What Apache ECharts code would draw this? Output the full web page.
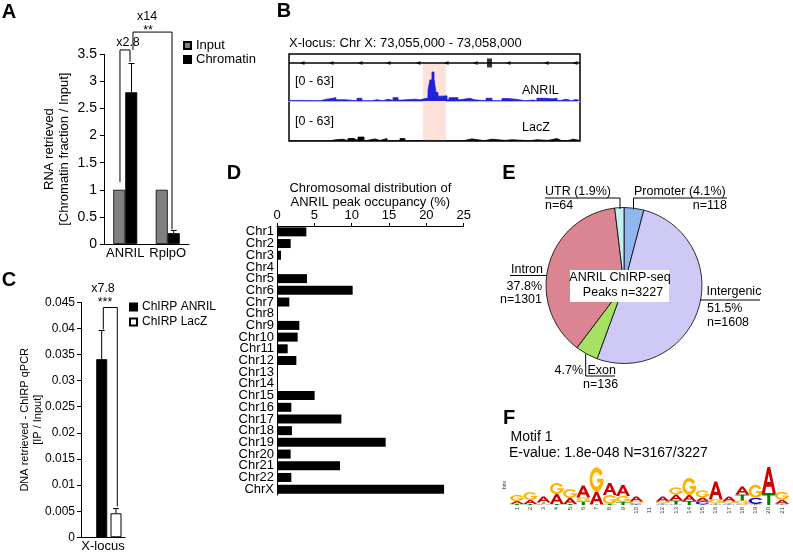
<!DOCTYPE html>
<html><head><meta charset="utf-8">
<script src="https://cdn.jsdelivr.net/npm/echarts@6/dist/echarts.min.js"></script>
<style>html,body{margin:0;padding:0;background:#fff}#c{width:793px;height:553px}</style>
</head><body><div id="c"></div>
<script>
// ---------------- DATA ----------------
// Panel A
const aCategories = ['ANRIL', 'RplpO'];
const aInput = [1, 1];
const aChromatin = [2.8, 0.2];
const aChromatinErrTop = [3.33, 0.25];
const aErrX = [0.647, 1.64];            // annotation axis units (category band = 1)
const aBracketX1 = [0.376, 0.682];
const aBracketY1 = [1.14, 3.58];
const aBracketX2 = [0.612, 1.6];
const aBracketY2 = [3.36, 0.27];
const aBracketTop = [3.58, 3.91];
const aLegend = ['Input', 'Chromatin'];

// Panel C
const cCategories = ['X-locus'];
const cAnril = [0.0341];
const cLacZ = [0.0046];
const cAnrilErrTop = [0.0396];
const cLacZErrTop = [0.0055];
const cErrX = [0.47, 0.795];
const cBracketX1 = [0.507];
const cBracketY1 = [0.0398];
const cBracketX2 = [0.825];
const cBracketY2 = [0.0059];
const cBracketTop = [0.0440];
const cLegend = ['ChIRP ANRIL', 'ChIRP LacZ'];

// Panel D
const dChromosomes = ['Chr1','Chr2','Chr3','Chr4','Chr5','Chr6','Chr7','Chr8','Chr9','Chr10','Chr11','Chr12',
  'Chr13','Chr14','Chr15','Chr16','Chr17','Chr18','Chr19','Chr20','Chr21','Chr22','ChrX'];
const dOccupancy = [3.93,1.83,0.54,0.09,4.02,10.13,1.65,0.09,2.99,2.77,1.43,2.59,
  0.13,0.05,5.04,1.92,8.62,2.0,14.55,1.83,8.44,1.92,22.37];
const dTicks = [0, 5, 10, 15, 20, 25];

// Panel B (positions in bp from 73,055,000; coverage on a 0-63 scale)
const bAnrilPos = [0,62,320,392,484,578,701,752,855,908,969,1021,1072,1124,1165,1299,1351,1433,1453,1474,1495,1515,1536,
  1578,1629,1650,1742,1763,1866,1908,2031,2093,2196,2258,2330,2433,2515,2556,2640,2712,2763,2804,2856,2910,2960,3000];
const bAnrilCov = [1,0.5,3,5.5,2,0.5,4.5,0.5,2,0.5,3,1,5.5,1.5,3,2,5,18,35,48,36,14,8,
  8.5,2,5.5,2,4.5,2,0.5,4.5,0.5,4,3,0.5,1.5,0.5,4.5,3.5,4.5,1,3,0.5,2.5,0.5,0.5];
const bLaczPos = [0,422,484,557,608,670,711,773,804,887,938,1010,1144,1195,1351,1433,1763,1814,1886,2010,2093,2227,
  2299,2484,2556,2670,2763,2804,2870,2930,3000];
const bLaczCov = [0.3,2,3,0.5,4,1,6.5,1,3.5,1,4,0.5,4,0.5,1,0.5,1,3.5,0.5,3,1,2,
  0.5,2,1,4,1,0.5,3,1,1];
const bGeneTicks = [134,433,732,1021,1330,1619,1918,2258,2650,2948];
const bExon = [2067];
const bHighlight = [1381, 1619];

// Panel E
const eNames = ['Promoter','Intergenic','Exon','Intron','UTR'];
const ePercent = [4.1, 51.5, 4.7, 37.8, 1.9];
const eCounts = [118, 1608, 136, 1301, 64];
const eTotal = 3227;

// Panel F (information content, bits)
const fPositions = ['1','2','3','4','5','6','7','8','9','10','11','12','13','14','15','16','17','18','19','20','21'];
const fA = [0.15,0.20,0.30,0.50,0.30,0.60,0.65,0.60,0.55,0.25,0,0.25,0.30,0.30,0.20,0.90,0.25,0.40,0.03,1.30,0.20];
const fC = [0,0,0.03,0,0,0,0,0,0,0.05,0,0.03,0.03,0,0.15,0.03,0.03,0.03,0.30,0,0.03];
const fG = [0.30,0.40,0.05,0.55,0.45,0.20,1.20,0.45,0.30,0.10,0,0.10,0.35,0.85,0.35,0.20,0.10,0.20,0.65,0,0.40];
const fT = [0.05,0.05,0.05,0.05,0.05,0.18,0.03,0.05,0.15,0.03,0,0.05,0.20,0.20,0.03,0.05,0.05,0.30,0.03,0.60,0.03];

// ---------------- STYLE / BUILD ----------------
const FONT = '"Liberation Sans", Arial, Helvetica, sans-serif';
const eColors = ['#8fb6ef', '#cfc9f6', '#a7e163', '#db8592', '#c8efef'];
const LETTER_COL = {A:'#cc0000', C:'#0000cc', G:'#ffb300', T:'#008000'};
const LETTER_PATH = {
  A: 'M0,100L40,0L60,0L100,100L78,100L69,76L31,76L22,100Z M38,58L62,58L50,26Z',
  T: 'M0,0L100,0L100,20L61,20L61,100L39,100L39,20L0,20Z',
  C: 'M94,25A48,50 0 1 0 94,75L76,65A28,30 0 1 1 76,35Z',
  G: 'M94,25A48,50 0 1 0 100,52L100,47L56,47L56,62L77,62A28,30 0 1 1 76,35Z'
};

const zip = (a, b) => a.map((v, i) => [v, b[i]]);

function errorBar(params, api) {
  const x = api.value(0), lo = api.value(1), hi = api.value(2);
  const p0 = api.coord([x, lo]), p1 = api.coord([x, hi]);
  return {type:'group', children:[
    {type:'line', shape:{x1:p0[0], y1:p0[1], x2:p1[0], y2:p1[1]}, style:{stroke:'#000', lineWidth:1}},
    {type:'line', shape:{x1:p1[0]-3, y1:p1[1], x2:p1[0]+3, y2:p1[1]}, style:{stroke:'#000', lineWidth:1}}
  ]};
}
function bracket(params, api) {
  const x1 = api.value(0), y1 = api.value(1), x2 = api.value(2), y2 = api.value(3), yt = api.value(4);
  const pts = [api.coord([x1, y1]), api.coord([x1, yt]), api.coord([x2, yt]), api.coord([x2, y2])];
  return {type:'polyline', shape:{points:pts}, style:{stroke:'#000', lineWidth:1, fill:null}};
}
function logoRender(params, api) {
  const i = api.value(0);
  const base = api.coord([i, 0]);
  const bw = api.size([1, 0])[0] * 1.05;
  const stack = [['A', api.value(1)], ['C', api.value(2)], ['G', api.value(3)], ['T', api.value(4)]]
    .sort((a, b) => a[1] - b[1]);
  let y = base[1];
  const children = [];
  stack.forEach(([l, v]) => {
    const h = api.size([0, v])[1];
    if (h >= 0.4) {
      children.push({type:'path', shape:{pathData:LETTER_PATH[l], x:base[0]-bw/2, y:y-h, width:bw, height:h, layout:'cover'},
        style:{fill:LETTER_COL[l]}});
    }
    y -= h;
  });
  return {type:'group', children};
}

const aErrData = aErrX.map((x, i) => [x, aChromatin[i], aChromatinErrTop[i]]);
const aBracketData = aBracketX1.map((x, i) => [x, aBracketY1[i], aBracketX2[i], aBracketY2[i], aBracketTop[i]]);
const cErrData = [[cErrX[0], cAnril[0], cAnrilErrTop[0]], [cErrX[1], cLacZ[0], cLacZErrTop[0]]];
const cBracketData = cBracketX1.map((x, i) => [x, cBracketY1[i], cBracketX2[i], cBracketY2[i], cBracketTop[i]]);
const fLogoData = fPositions.map((p, i) => [i, fA[i], fC[i], fG[i], fT[i]]);
const GENE_Y = 0.897;

function T(text, x, y, size, align, bold) {
  return {type:'text', x, y, z:100, silent:true,
    style:{text, fill:'#000', font:(bold ? 'bold ' : '') + size + 'px ' + FONT,
      textAlign:align || 'left', align:align || 'left', textVerticalAlign:'middle', verticalAlign:'middle'}};
}
function L(points, w) {
  return {type:'polyline', z:100, silent:true, shape:{points}, style:{stroke:'#000', lineWidth:w || 1, fill:null}};
}

const axisLineBlack = {show:true, lineStyle:{color:'#000', width:1}};
const lbl = (fs, margin) => ({color:'#000', fontSize:fs, margin, fontFamily:FONT, interval:0});

const option = {
  animation:false,
  backgroundColor:'#fff',
  textStyle:{fontFamily:FONT, color:'#000'},
  grid:[
    {left:104, top:54.3, width:85, height:189.7},
    {left:81, top:302.3, width:44, height:235},
    {left:277, top:226, width:186.7, height:269},
    {left:289, top:54, width:291, height:87, show:true, borderColor:'#000', borderWidth:1.5, backgroundColor:'transparent'},
    {left:289, top:63, width:291, height:38},
    {left:289, top:103, width:291, height:38},
    {left:510.4, top:465, width:278.25, height:40}
  ].map(g => Object.assign({outerBoundsMode:'none', containLabel:false}, g)),
  legend:[
    {data:aLegend, orient:'vertical', left:178, top:34, itemWidth:7, itemHeight:7, itemGap:1, icon:'rect',
      textStyle:{fontSize:13, color:'#000', fontFamily:FONT}, selectedMode:false},
    {data:cLegend, orient:'vertical', left:124, top:296, itemWidth:7, itemHeight:7, itemGap:3, icon:'rect',
      textStyle:{fontSize:12, color:'#000', fontFamily:FONT}, selectedMode:false}
  ],
  xAxis:[
    {gridIndex:0, type:'category', data:aCategories, axisLine:axisLineBlack, axisTick:{show:false}, axisLabel:lbl(13, 3)},
    {gridIndex:0, type:'value', min:0, max:2, show:false},
    {gridIndex:1, type:'category', data:cCategories, axisLine:axisLineBlack, axisTick:{show:false}, axisLabel:lbl(13, 3)},
    {gridIndex:1, type:'value', min:0, max:1, show:false},
    {gridIndex:2, type:'value', position:'top', min:dTicks[0], max:dTicks[dTicks.length-1], interval:5, axisLine:axisLineBlack,
      axisTick:{show:true, length:3, lineStyle:{color:'#000'}}, axisLabel:lbl(13, 4), splitLine:{show:false},
      name:'Chromosomal distribution of\nANRIL peak occupancy (%)', nameLocation:'middle', nameGap:17, nameMoveOverlap:false,
      nameTextStyle:{fontSize:13, lineHeight:14, color:'#000', fontFamily:FONT}},
    {gridIndex:3, type:'value', min:0, max:3000, show:false},
    {gridIndex:4, type:'value', min:0, max:3000, axisLine:{show:true, onZero:false, lineStyle:{color:'#b8b8b8', width:1}},
      axisTick:{show:false}, axisLabel:{show:false}, splitLine:{show:false}},
    {gridIndex:5, type:'value', min:0, max:3000, show:false},
    {gridIndex:6, type:'category', data:fPositions, axisLine:{show:false}, axisTick:{show:false},
      axisLabel:{rotate:90, fontSize:6, interval:0, margin:2, color:'#333', fontFamily:FONT}}
  ],
  yAxis:[
    {gridIndex:0, type:'value', min:0, max:3.5, interval:0.5, axisLine:axisLineBlack,
      axisTick:{show:true, length:4, lineStyle:{color:'#000'}}, axisLabel:lbl(14, 7), splitLine:{show:false},
      name:'RNA retrieved\n[Chromatin fraction / Input]', nameLocation:'middle', nameRotate:90, nameGap:32, nameMoveOverlap:false,
      nameTextStyle:{fontSize:13, lineHeight:15, color:'#000', fontFamily:FONT}},
    {gridIndex:1, type:'value', min:0, max:0.045, interval:0.005, axisLine:axisLineBlack,
      axisTick:{show:true, length:4, lineStyle:{color:'#000'}}, axisLabel:lbl(12, 6), splitLine:{show:false},
      name:'DNA retrieved - ChIRP qPCR\n[IP / Input]', nameLocation:'middle', nameRotate:90, nameGap:37, nameMoveOverlap:false,
      nameTextStyle:{fontSize:11, lineHeight:13, color:'#000', fontFamily:FONT}},
    {gridIndex:2, type:'category', data:dChromosomes, inverse:true, axisLine:axisLineBlack, axisTick:{show:false},
      axisLabel:lbl(13, 3)},
    {gridIndex:3, type:'value', min:0, max:1, show:false},
    {gridIndex:4, type:'value', min:0, max:63, show:false},
    {gridIndex:5, type:'value', min:0, max:63, show:false},
    {gridIndex:6, type:'value', min:0, max:2, axisLine:{show:false}, axisTick:{show:false}, axisLabel:{show:false},
      splitLine:{show:false}, name:'bits', nameLocation:'middle', nameRotate:90, nameGap:3, nameMoveOverlap:false,
      nameTextStyle:{fontSize:5, color:'#333'}}
  ],
  series:[
    // A
    {name:aLegend[0], type:'bar', xAxisIndex:0, yAxisIndex:0, data:aInput, barWidth:12, barGap:'0%',
      itemStyle:{color:'#808080', borderColor:'#000', borderWidth:0.8}},
    {name:aLegend[1], type:'bar', xAxisIndex:0, yAxisIndex:0, data:aChromatin, barWidth:12, barGap:'0%',
      itemStyle:{color:'#000', borderColor:'#000', borderWidth:0.8}},
    {type:'custom', xAxisIndex:1, yAxisIndex:0, renderItem:errorBar, data:aErrData, clip:false, z:4, silent:true},
    {type:'custom', xAxisIndex:1, yAxisIndex:0, renderItem:bracket, data:aBracketData, clip:false, z:4, silent:true},
    // C
    {name:'_gap', type:'bar', xAxisIndex:2, yAxisIndex:1, data:[null], barWidth:9, barGap:'30%'},
    {name:cLegend[0], type:'bar', xAxisIndex:2, yAxisIndex:1, data:cAnril, barWidth:11, barGap:'30%',
      itemStyle:{color:'#000', borderColor:'#000', borderWidth:0.8}},
    {name:cLegend[1], type:'bar', xAxisIndex:2, yAxisIndex:1, data:cLacZ, barWidth:11, barGap:'30%',
      itemStyle:{color:'#fff', borderColor:'#000', borderWidth:1}},
    {type:'custom', xAxisIndex:3, yAxisIndex:1, renderItem:errorBar, data:cErrData, clip:false, z:4, silent:true},
    {type:'custom', xAxisIndex:3, yAxisIndex:1, renderItem:bracket, data:cBracketData, clip:false, z:4, silent:true},
    // D
    {type:'bar', xAxisIndex:4, yAxisIndex:2, data:dOccupancy, barWidth:9, itemStyle:{color:'#000'}, silent:true},
    // B
    {type:'line', xAxisIndex:5, yAxisIndex:3, data:[[0, GENE_Y], [3000, GENE_Y]], symbol:'none', z:1, silent:true,
      lineStyle:{color:'#000', width:1.5},
      markArea:{silent:true, itemStyle:{color:'#fde2da'},
        data:[[{coord:[bHighlight[0], 0]}, {coord:[bHighlight[1], GENE_Y]}]]}},
    {type:'scatter', xAxisIndex:5, yAxisIndex:3, data:bGeneTicks.map(p => [p, GENE_Y]), symbol:'path://M4,0L0,2L4,4Z',
      symbolSize:[5,4], itemStyle:{color:'#000'}, silent:true, z:3},
    {type:'scatter', xAxisIndex:5, yAxisIndex:3, data:bExon.map(p => [p, GENE_Y]), symbol:'rect',
      symbolSize:[5,9], itemStyle:{color:'#000'}, silent:true, z:3},
    {type:'line', xAxisIndex:6, yAxisIndex:4, data:zip(bAnrilPos, bAnrilCov), step:'end', symbol:'none', z:3, silent:true,
      lineStyle:{color:'#2020dd', width:0.8}, areaStyle:{color:'#2020dd', opacity:1}},
    {type:'line', xAxisIndex:7, yAxisIndex:5, data:zip(bLaczPos, bLaczCov), step:'end', symbol:'none', z:3, silent:true,
      lineStyle:{color:'#000', width:0.8}, areaStyle:{color:'#000', opacity:1}},
    // E
    {type:'pie', center:[624, 285.5], radius:78, startAngle:90, clockwise:true, silent:true,
      label:{show:false}, labelLine:{show:false}, itemStyle:{borderColor:'#000', borderWidth:0.8},
      data:eNames.map((n, i) => ({name:n, value:ePercent[i], itemStyle:{color:eColors[i]}}))},
    // F
    {type:'custom', xAxisIndex:8, yAxisIndex:6, renderItem:logoRender, data:fLogoData, clip:false, silent:true}
  ],
  graphic:[
    // panel letters
    T('A', 9, 12, 20, 'center', true),
    T('B', 284, 11, 20, 'center', true),
    T('C', 9, 280, 20, 'center', true),
    T('D', 234, 173, 20, 'center', true),
    T('E', 509, 173, 20, 'center', true),
    T('F', 509, 418, 20, 'center', true),
    // A annotations
    T('x2.8', 128, 43, 12.5, 'center'),
    T('**', 148, 31, 12.5, 'center'),
    T('x14', 147, 17, 12.5, 'center'),
    // C annotations
    T('x7.8', 103, 289, 12.5, 'center'),
    T('***', 105, 303, 12.5, 'center'),
    // B texts
    T('X-locus: Chr X: 73,055,000 - 73,058,000', 289, 43, 13, 'left'),
    T('[0 - 63]', 295, 82, 12.5, 'left'),
    T('[0 - 63]', 295, 122, 12.5, 'left'),
    T('ANRIL', 522, 91, 12.5, 'left'),
    T('LacZ', 522, 128, 12.5, 'left'),
    // E texts
    {type:'rect', z:99, silent:true, shape:{x:570, y:270, width:99, height:32}, style:{fill:'#fff'}},
    T('ANRIL ChIRP-seq', 620, 278, 12.5, 'center'),
    T('Peaks n=' + eTotal, 623, 293, 12.5, 'center'),
    T(eNames[4] + ' (' + ePercent[4] + '%)', 545, 191.5, 12.5, 'left'),
    T('n=' + eCounts[4], 545, 206, 12.5, 'left'),
    T(eNames[0] + ' (' + ePercent[0] + '%)', 634, 191.5, 12.5, 'left'),
    T('n=' + eCounts[0], 727, 206, 12.5, 'right'),
    T(eNames[1], 706.5, 291.5, 12.5, 'left'),
    T(ePercent[1] + '%', 707, 308.5, 12.5, 'left'),
    T('n=' + eCounts[1], 707, 323, 12.5, 'left'),
    T(eNames[3], 543, 269.5, 12.5, 'right'),
    T(ePercent[3] + '%', 542, 286.5, 12.5, 'right'),
    T('n=' + eCounts[3], 542, 300, 12.5, 'right'),
    T(ePercent[2] + '%', 583, 370.5, 12.5, 'right'),
    T(eNames[2], 587.5, 370.5, 12.5, 'left'),
    T('n=' + eCounts[2], 583, 385, 12.5, 'left'),
    L([[545, 198], [620, 198], [620, 209]]),
    L([[727, 198], [633.5, 198], [633.5, 209.5]]),
    L([[700.5, 300], [760, 300]]),
    L([[510, 275.5], [547, 275.5]]),
    L([[585.7, 353.5], [585.7, 376], [615, 376]]),
    // F texts
    T('Motif 1', 510.5, 437, 14, 'left'),
    T('E-value: 1.8e-048 N=3167/3227', 509, 453, 14, 'left')
  ]
};

const chart = echarts.init(document.getElementById('c'), null, {renderer:'canvas', width:793, height:553});
chart.setOption(option);
</script>
</body></html>
